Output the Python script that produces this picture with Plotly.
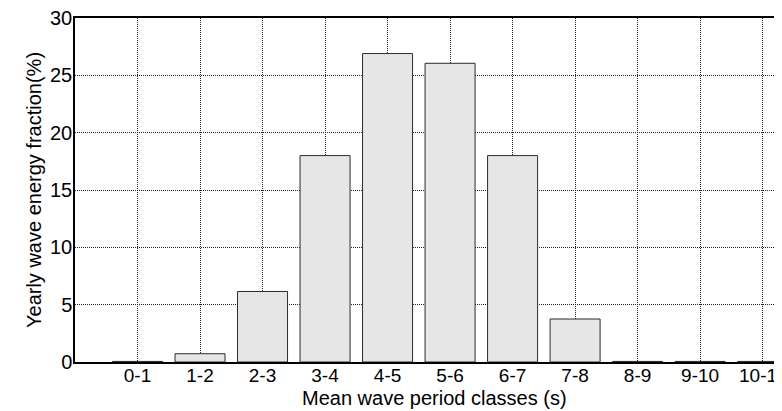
import plotly.graph_objects as go

categories = ["0-1", "1-2", "2-3", "3-4", "4-5", "5-6", "6-7", "7-8", "8-9", "9-10", "10-11"]
energy_fraction = [0.05, 0.72, 6.15, 18.0, 26.9, 26.05, 18.0, 3.75, 0.05, 0.05, 0.05]
y_ticks = [0, 5, 10, 15, 20, 25, 30]
x_title = "Mean wave period classes (s)"
y_title = "Yearly wave energy fraction(%)"

positions = list(range(len(categories)))

fig = go.Figure()
fig.add_trace(go.Bar(
    x=positions,
    y=energy_fraction,
    width=0.8,
    marker=dict(color="#e6e6e6", line=dict(color="#2a2a2a", width=1)),
    showlegend=False,
))

font_family = "Liberation Sans, Arial, sans-serif"

# page body has an 8px default margin; figure is sized to fill the rest of the window
fig.update_layout(
    width=774,
    height=403,
    margin=dict(l=67, r=0, t=10, b=49),
    paper_bgcolor="white",
    plot_bgcolor="white",
    font=dict(family=font_family, size=20, color="black"),
)

fig.update_xaxes(
    range=[-1, 10.31],
    tickvals=positions,
    ticktext=categories,
    showgrid=True,
    gridcolor="#222222",
    griddash="1px,1px",
    gridwidth=1,
    showline=True,
    linecolor="black",
    linewidth=1.5,
    mirror=True,
    ticks="",
    zeroline=False,
    automargin=False,
    ticklabeloverflow="allow",
    ticklabelstandoff=-5,
    tickfont=dict(size=19),
)

fig.update_yaxes(
    range=[0, 30],
    tickvals=y_ticks,
    showgrid=True,
    gridcolor="#222222",
    griddash="1px,1px",
    gridwidth=1,
    showline=True,
    linecolor="black",
    linewidth=1.5,
    ticks="",
    zeroline=False,
    automargin=False,
    ticklabeloverflow="allow",
    ticklabelstandoff=-3,
    tickfont=dict(size=20),
)

fig.add_annotation(
    text=x_title, xref="paper", yref="paper", x=0.5, y=0,
    xanchor="center", yanchor="top", yshift=-23, xshift=6,
    showarrow=False, font=dict(size=20),
)
fig.add_annotation(
    text=y_title, xref="paper", yref="paper", x=0, y=0.5,
    xanchor="center", yanchor="middle", xshift=-41, textangle=-90,
    showarrow=False, font=dict(size=20),
)

fig.write_html("out.html")
